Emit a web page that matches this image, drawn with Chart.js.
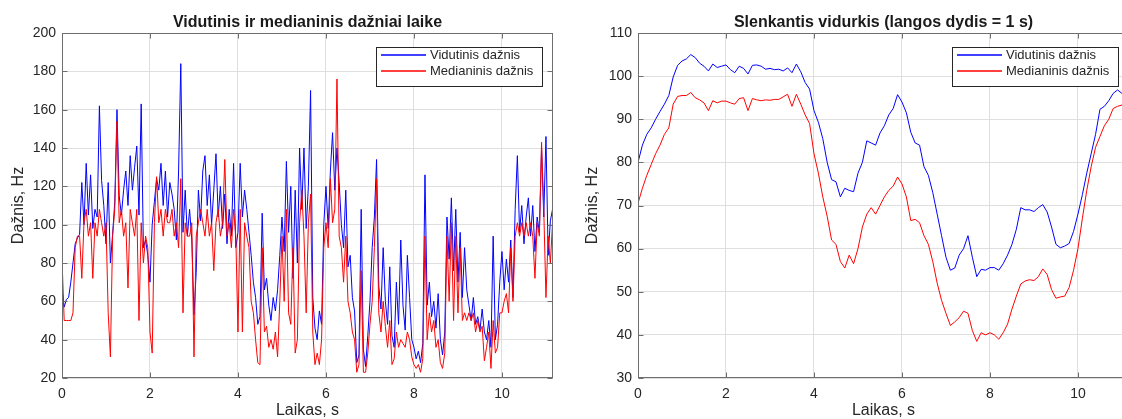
<!DOCTYPE html>
<html>
<head>
<meta charset="utf-8">
<script src="https://cdn.jsdelivr.net/npm/chart.js@4.4.1/dist/chart.umd.min.js"></script>
<style>
html, body { margin: 0; padding: 0; background: #fff; overflow: hidden; width: 1122px; height: 419px; }
#kairys { position: absolute; left: 0; top: 0; }
#desinys { position: absolute; left: 561px; top: 0; }
</style>
</head>
<body>
<canvas id="kairys" width="561" height="430"></canvas>
<canvas id="desinys" width="571" height="430"></canvas>
<script>
// laiko žingsniai, s
const dtKairys = 0.05;
const dtDesinys = 0.1;
const xMax = 11.16;

// kairys grafikas: dažniai laike (po 20 reikšmių per sekundę)
const vidutinisKairys = [
  66, 57, 61, 62, 70, 80, 90, 93, 95, 122, 100, 132, 105, 126, 98, 108, 104, 162, 123, 110,
  90, 122, 80, 95, 112, 160, 115, 105, 118, 128, 110, 136, 118, 130, 141, 105, 163, 88, 92, 84,
  70, 100, 112, 124, 118, 132, 110, 128, 104, 122, 116, 108, 92, 128, 184, 96, 118, 94, 108, 92,
  53, 75, 118, 102, 128, 136, 110, 126, 100, 118, 137, 104, 120, 98, 116, 90, 108, 94, 132, 88,
  96, 132, 104, 118, 108, 96, 84, 70, 62, 48, 52, 106, 66, 72, 58, 50, 62, 55, 66, 84,
  104, 86, 133, 96, 120, 72, 118, 80, 140, 108, 140, 98, 120, 170, 62, 46, 40, 55, 48, 100,
  120, 98, 128, 148, 118, 140, 122, 100, 88, 118, 78, 84, 62, 55, 28, 32, 108, 35, 26, 42,
  60, 88, 104, 134, 68, 56, 88, 60, 48, 78, 42, 36, 70, 48, 92, 58, 45, 84, 62, 40,
  36, 30, 34, 28, 38, 126, 58, 70, 52, 60, 46, 64, 40, 32, 44, 104, 82, 114, 76, 108,
  70, 96, 62, 88, 66, 58, 50, 62, 48, 52, 45, 56, 44, 40, 50, 36, 94, 40, 48, 70,
  86, 66, 82, 70, 92, 62, 108, 136, 96, 110, 90, 104, 114, 94, 110, 86, 104, 96, 140, 104,
  146, 84, 102, 108
];
const medianinisKairys = [
  82, 50, 50, 50, 50, 54, 88, 94, 94, 72, 101, 108, 94, 101, 72, 101, 94, 108, 101, 94,
  101, 54, 31, 94, 108, 154, 101, 108, 94, 101, 67, 108, 101, 94, 108, 50, 101, 80, 94, 88,
  44, 33, 101, 125, 101, 108, 94, 108, 101, 101, 108, 94, 101, 88, 124, 54, 101, 94, 94, 101,
  31, 94, 101, 108, 101, 94, 108, 94, 101, 76, 101, 108, 94, 101, 134, 94, 101, 88, 108, 94,
  44, 108, 44, 101, 94, 88, 60, 54, 40, 28, 27, 88, 44, 47, 36, 40, 35, 44, 31, 60,
  94, 60, 108, 54, 48, 88, 33, 40, 101, 118, 94, 54, 101, 116, 44, 27, 33, 27, 40, 88,
  101, 88, 124, 101, 108, 176, 94, 88, 70, 94, 60, 54, 44, 40, 23, 27, 76, 23, 23, 33,
  48, 60, 88, 124, 54, 44, 60, 47, 36, 50, 27, 30, 44, 36, 40, 38, 36, 44, 40, 31,
  27, 25, 27, 23, 30, 94, 40, 54, 44, 50, 36, 40, 28, 25, 33, 94, 60, 101, 50, 94,
  54, 88, 50, 54, 50, 54, 50, 54, 44, 50, 44, 47, 29, 36, 44, 25, 50, 33, 36, 54,
  54, 60, 64, 54, 88, 60, 94, 101, 94, 101, 94, 101, 94, 101, 94, 72, 101, 94, 143, 108,
  62, 94, 80, 101
];

// desinys grafikas: slenkantis vidurkis (po 10 reikšmių per sekundę)
const vidutinisDesinys = [
  80, 84, 86.5, 88, 90, 91.8, 93.5, 95.5, 99.8, 102.5,
  103.5, 104, 105, 104.3, 103, 102.3, 101.2, 102.8, 102, 102.3,
  102.6, 101.5, 100.8, 102.3, 101.8, 100.5, 102.5, 102.6, 102.3, 101.6,
  101.8, 101.5, 101.6, 101.2, 101.9, 100.8, 102.8, 101, 98.5, 97,
  92, 89.3, 85.5, 80, 76, 75.5, 72, 74, 73.5, 73.2,
  77.5, 80, 85, 84.5, 84, 86.8, 88.5, 91, 92.5, 95.7,
  94, 91.5, 87, 84.5, 84, 79, 77, 73, 68, 63,
  58, 55, 55.5, 58.5, 60, 63, 58, 53.5, 55.2, 55,
  55.6, 55.6, 55, 56.5, 58.5, 61, 64.5, 69.5, 69, 69,
  68.6, 69.5, 70.2, 68.5, 65, 61, 60.2, 60.6, 61.2, 64,
  68, 72.5, 77.5, 82, 86.5, 92.3, 93, 94.3, 96, 96.8,
  96, 97
];
const medianinisDesinys = [
  70.5, 74, 77, 79.5, 82, 84, 86.5, 88, 93.5, 95.3,
  95.5, 95.5, 96.2, 95, 94.5, 93.8, 92, 94.3, 93.8, 94.2,
  94.2, 93.8, 93.5, 94.8, 95, 92, 94.8, 94.5, 94.3, 94.5,
  94.4, 94.6, 94.6, 95.2, 95.8, 93, 95.8, 93.5, 91, 89,
  82, 77.5, 72, 67.5, 62, 61, 57, 55.5, 58.5, 56.5,
  60, 65, 68, 69.5, 68, 70, 72, 73.5, 74.5, 76.6,
  75, 72, 66.5, 66.8, 66, 63, 61, 57, 52, 48,
  45, 42.2, 43, 44, 45.5, 45, 41, 38.5, 40.5, 40,
  40.5, 40, 39, 40.5, 42.5, 46, 49, 51.8, 52.5, 52.8,
  52.6, 53.5, 55.3, 54, 50.5, 48.5, 48.8, 49, 51, 55,
  60, 67, 73.5, 79, 83.5, 86, 88.5, 90, 92.5, 93,
  93.3, 94.5
];

const xTicks = [0, 2, 4, 6, 8, 10];
const yTicksKairys = [20, 40, 60, 80, 100, 120, 140, 160, 180, 200];
const yTicksDesinys = [30, 40, 50, 60, 70, 80, 90, 100, 110];
const serijos = ["Vidutinis dažnis", "Medianinis dažnis"];
const spalvos = ["#0000ff", "#ff0000"];

Chart.defaults.font.family = "'Liberation Sans', Arial, Helvetica, sans-serif";
Chart.defaults.color = "#262626";

// rėmelis, brūkšneliai ir legenda kaip MATLAB'e
const remelis = {
  id: "remelis",
  afterDraw(chart, args, opts) {
    const ctx = chart.ctx;
    const a = chart.chartArea;
    const l = Math.round(a.left) + 0.5, t = Math.round(a.top) + 0.5;
    const r = Math.round(a.right) - 0.5, b = Math.round(a.bottom) - 0.5;
    ctx.save();
    ctx.strokeStyle = "#6e6e6e";
    ctx.lineWidth = 1;
    ctx.strokeRect(l, t, r - l, b - t);
    ctx.beginPath();
    chart.scales.x.ticks.forEach(tk => {
      const px = Math.round(chart.scales.x.getPixelForValue(tk.value)) + 0.5;
      ctx.moveTo(px, b); ctx.lineTo(px, b - 5);
      ctx.moveTo(px, t); ctx.lineTo(px, t + 5);
    });
    chart.scales.y.ticks.forEach(tk => {
      const py = Math.round(chart.scales.y.getPixelForValue(tk.value)) + 0.5;
      ctx.moveTo(l, py); ctx.lineTo(l + 5, py);
      ctx.moveTo(r, py); ctx.lineTo(r - 5, py);
    });
    ctx.stroke();

    // legenda
    const w = 166, h = 39;
    const x0 = Math.round(a.right - opts.desine - w);
    const y0 = Math.round(a.top + 14);
    ctx.fillStyle = "#fff";
    ctx.fillRect(x0, y0, w, h);
    ctx.strokeStyle = "#262626";
    ctx.strokeRect(x0 + 0.5, y0 + 0.5, w, h);
    ctx.font = "13px 'Liberation Sans', Arial, sans-serif";
    ctx.textBaseline = "middle";
    chart.data.datasets.forEach((ds, i) => {
      const yy = 2 * Math.round((y0 + 7 + i * 16) / 2);
      ctx.globalAlpha = 0.75;
      ctx.fillStyle = spalvos[i];
      ctx.fillRect(x0 + 5, yy, 45, 2);
      ctx.globalAlpha = 1;
      ctx.fillStyle = "#262626";
      ctx.fillText(ds.label, x0 + 54, yy + 1);
    });
    ctx.restore();
  }
};

function sukurtiGrafika(id, vid, med, dt, yMin, yMax, yTicks, titulas, yPlotis, yTitulas, desinePad) {
  new Chart(document.getElementById(id), {
    type: "line",
    data: {
      datasets: [
        { label: serijos[0], data: vid.map((v, i) => ({ x: i * dt, y: v })), borderColor: spalvos[0], borderWidth: 1, pointRadius: 0, order: 2 },
        { label: serijos[1], data: med.map((v, i) => ({ x: i * dt, y: v })), borderColor: spalvos[1], borderWidth: 1, pointRadius: 0, order: 1 }
      ]
    },
    options: {
      responsive: false,
      animation: false,
      devicePixelRatio: 1,
      layout: { padding: { left: 0, right: desinePad, top: 0, bottom: 0 } },
      plugins: {
        legend: { display: false },
        tooltip: { enabled: false },
        remelis: { desine: 11 },
        title: {
          display: true, text: titulas, fullSize: false, color: "#1a1a1a",
          font: { size: 16, weight: "bold" }, padding: { top: 12.8, bottom: 1 }
        }
      },
      scales: {
        x: {
          type: "linear", min: 0, max: xMax,
          afterBuildTicks: s => { s.ticks = xTicks.map(v => ({ value: v })); },
          afterFit: s => { s.height = 52; },
          ticks: { font: { size: 14 }, padding: 8, maxRotation: 0, autoSkip: false },
          grid: { color: "#dfdfdf", drawTicks: false },
          border: { display: false },
          title: { display: true, text: "Laikas, s", font: { size: 16 }, padding: { top: 0, bottom: 9.4 } }
        },
        y: {
          min: yMin, max: yMax,
          afterBuildTicks: s => { s.ticks = yTicks.map(v => ({ value: v })); },
          afterFit: s => { s.width = yPlotis; },
          ticks: { font: { size: 14 }, padding: 6 },
          grid: { color: "#dfdfdf", drawTicks: false },
          border: { display: false },
          title: { display: true, text: "Dažnis, Hz", font: { size: 16 }, padding: { top: yTitulas, bottom: 0 } }
        }
      }
    },
    plugins: [remelis]
  });
}

sukurtiGrafika("kairys", vidutinisKairys, medianinisKairys, dtKairys, 20, 200, yTicksKairys,
  "Vidutinis ir medianinis dažniai laike", 62, 8.5, 8);
sukurtiGrafika("desinys", vidutinisDesinys, medianinisDesinys, dtDesinys, 30, 110, yTicksDesinys,
  "Slenkantis vidurkis (langos dydis = 1 s)", 77, 22.4, 3);
</script>
</body>
</html>
